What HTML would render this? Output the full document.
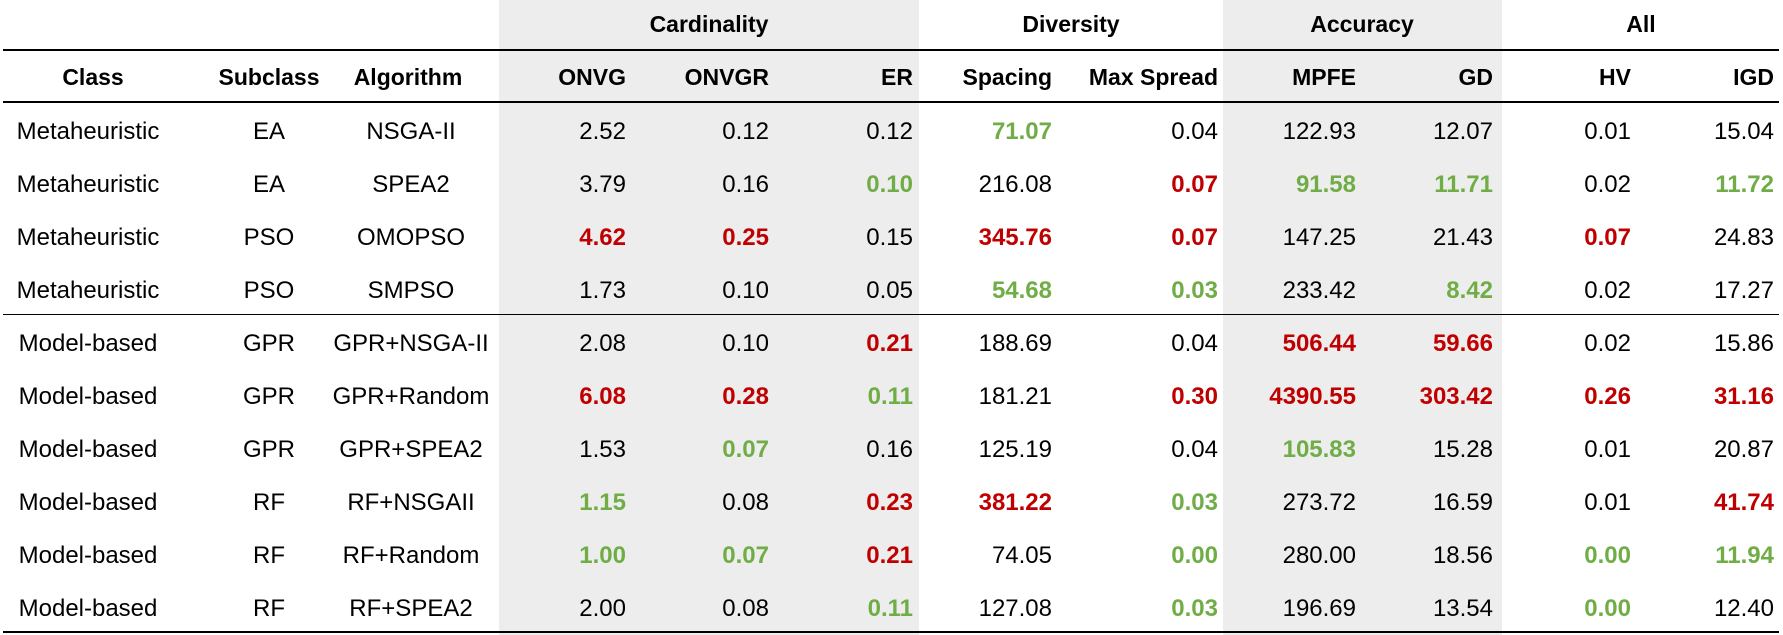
<!DOCTYPE html>
<html><head><meta charset="utf-8">
<style>
html,body{margin:0;padding:0;background:#fff;}
#wrap{position:relative;width:1783px;height:635px;overflow:hidden;font-family:"Liberation Sans",sans-serif;color:#000;}
.c{position:absolute;height:40px;line-height:40px;font-size:24px;white-space:nowrap;}
.h{font-weight:bold;font-size:23px;}
.g{color:#70ad47;font-weight:bold;}
.r{color:#c00000;font-weight:bold;}
.shade{position:absolute;top:0;height:635px;background:#ededed;}
.ln{position:absolute;left:3px;width:1776px;background:#000;}
</style></head>
<body>
<div id="wrap">
  <div class="shade" style="left:499px;width:420px;"></div>
  <div class="shade" style="left:1223px;width:279px;"></div>
  <div class="ln" style="top:49px;height:2px;"></div>
  <div class="ln" style="top:101px;height:2px;"></div>
  <div class="ln" style="top:314px;height:1px;"></div>
  <div class="ln" style="top:631px;height:2px;"></div>
</div>
<script>
const groups = ["Cardinality","Diversity","Accuracy","All"];
const groupCenters = [709,1071,1362,1641];
const leftHeaders = ["Class","Subclass","Algorithm"];
const leftCenters = [93,269,408];
const metricHeaders = ["ONVG","ONVGR","ER","Spacing","Max Spread","MPFE","GD","HV","IGD"];
const metricRights = [626,769,913,1052,1218,1356,1493,1631,1774];
const classes = ["Metaheuristic","Metaheuristic","Metaheuristic","Metaheuristic","Model-based","Model-based","Model-based","Model-based","Model-based","Model-based"];
const subclasses = ["EA","EA","PSO","PSO","GPR","GPR","GPR","RF","RF","RF"];
const algorithms = ["NSGA-II","SPEA2","OMOPSO","SMPSO","GPR+NSGA-II","GPR+Random","GPR+SPEA2","RF+NSGAII","RF+Random","RF+SPEA2"];
const values = [
 ["2.52","0.12","0.12","71.07","0.04","122.93","12.07","0.01","15.04"],
 ["3.79","0.16","0.10","216.08","0.07","91.58","11.71","0.02","11.72"],
 ["4.62","0.25","0.15","345.76","0.07","147.25","21.43","0.07","24.83"],
 ["1.73","0.10","0.05","54.68","0.03","233.42","8.42","0.02","17.27"],
 ["2.08","0.10","0.21","188.69","0.04","506.44","59.66","0.02","15.86"],
 ["6.08","0.28","0.11","181.21","0.30","4390.55","303.42","0.26","31.16"],
 ["1.53","0.07","0.16","125.19","0.04","105.83","15.28","0.01","20.87"],
 ["1.15","0.08","0.23","381.22","0.03","273.72","16.59","0.01","41.74"],
 ["1.00","0.07","0.21","74.05","0.00","280.00","18.56","0.00","11.94"],
 ["2.00","0.08","0.11","127.08","0.03","196.69","13.54","0.00","12.40"]
];
const marks = [
 "...g.....",
 "..g.rgg.g",
 "rr.rr..r.",
 "...gg.g..",
 "..r..rr..",
 "rrg.rrrrr",
 ".g...g...",
 "g.rrg...r",
 "ggr.g..gg",
 "..g.g..g."
];
const wrap = document.getElementById('wrap');
function cell(text, cls, x, yc, align){
  const d = document.createElement('div');
  d.className = 'c ' + cls;
  d.textContent = text;
  d.style.top = (yc - 20) + 'px';
  if (align === 'center'){ d.style.left = (x - 150) + 'px'; d.style.width = '300px'; d.style.textAlign = 'center'; }
  else { d.style.left = (x - 300) + 'px'; d.style.width = '300px'; d.style.textAlign = 'right'; }
  wrap.appendChild(d);
  return d;
}
function slug(s){ return s.toLowerCase().replace(/[^a-z0-9]+/g,'-').replace(/^-|-$/g,''); }
groups.forEach((g,i)=>{
  const d = cell(g,'h',groupCenters[i],24,'center');
  
  
});
leftHeaders.forEach((h,i)=>{
  const d = cell(h,'h',leftCenters[i],77,'center');
  
  
});
metricHeaders.forEach((h,i)=>{
  const d = cell(h,'h',metricRights[i],77,'right');
  
  
});
const rowTop = 132, rowStep = 53;
algorithms.forEach((a,r)=>{
  const yc = rowTop + r*rowStep;
  let d = cell(classes[r],'',leftCenters[0]-5,yc,'center');
  
  
  d = cell(subclasses[r],'',leftCenters[1],yc,'center');
  
  
  d = cell(a,'',leftCenters[2]+3,yc,'center');
  
  
  values[r].forEach((v,c)=>{
    const m = marks[r][c];
    const e = cell(v, m==='g'?'g':(m==='r'?'r':''), metricRights[c], yc, 'right');
    
    
  });
});
</script>
</body></html>
